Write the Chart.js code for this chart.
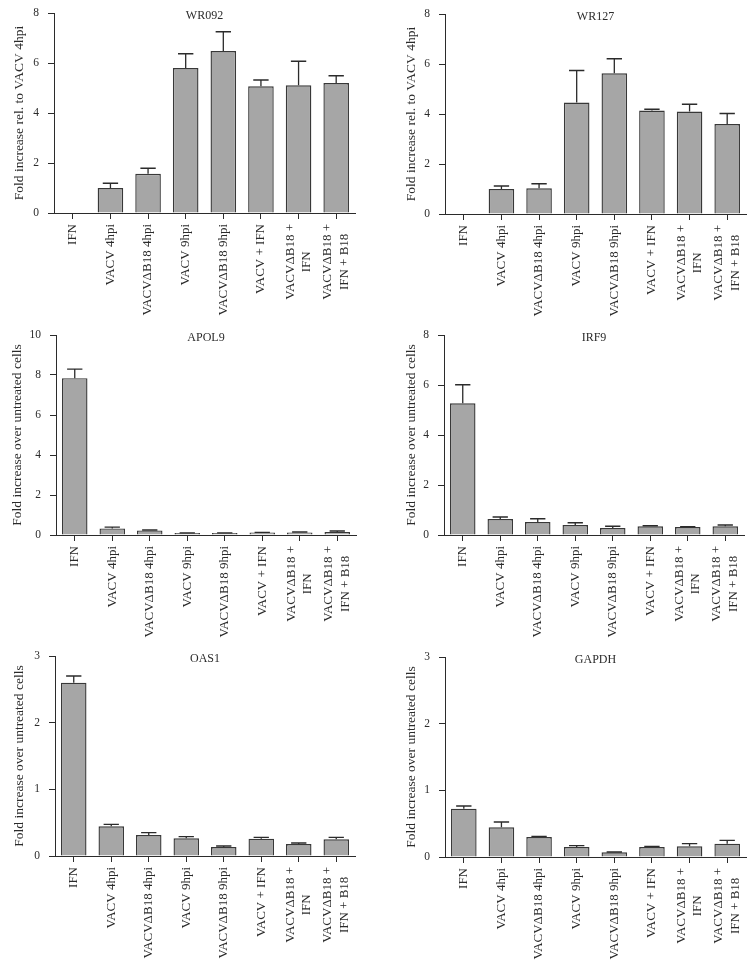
<!DOCTYPE html>
<html lang="en">
<head>
  <meta charset="UTF-8">
  <title>Gene expression panels</title>
  <script src="https://cdn.jsdelivr.net/npm/chart.js"></script>
  <style>
    body { margin: 0; background: #fff; }
    #wrap { position: relative; width: 754px; height: 972px; overflow: hidden; }
    .cell { position: absolute; }
  </style>
</head>
<body>
  <div id="wrap">
    <div class="cell" style="left:0;top:0"><canvas id="c1"></canvas></div>
    <div class="cell" style="left:377px;top:0"><canvas id="c2"></canvas></div>
    <div class="cell" style="left:0;top:318px"><canvas id="c3"></canvas></div>
    <div class="cell" style="left:377px;top:318px"><canvas id="c4"></canvas></div>
    <div class="cell" style="left:0;top:643px"><canvas id="c5"></canvas></div>
    <div class="cell" style="left:377px;top:643px"><canvas id="c6"></canvas></div>
  </div>
  <script>
    const categories = [
      'IFN', 'VACV 4hpi', 'VACVΔB18 4hpi', 'VACV 9hpi', 'VACVΔB18 9hpi',
      'VACV + IFN', ['VACVΔB18 +', 'IFN'], ['VACVΔB18 +', 'IFN + B18']
    ];

    const wr092Mean = [0, 1.0, 1.57, 5.8, 6.48, 5.07, 5.11, 5.2];
    const wr092Err  = [0, 0.19, 0.22, 0.57, 0.77, 0.25, 0.96, 0.29];
    const wr127Mean = [0, 1.0, 1.03, 4.46, 5.63, 4.14, 4.1, 3.6];
    const wr127Err  = [0, 0.12, 0.18, 1.28, 0.58, 0.05, 0.29, 0.42];
    const apol9Mean = [7.84, 0.33, 0.23, 0.1, 0.1, 0.12, 0.13, 0.15];
    const apol9Err  = [0.45, 0.06, 0.02, 0.01, 0.01, 0.01, 0.02, 0.05];
    const irf9Mean  = [5.27, 0.64, 0.52, 0.4, 0.28, 0.35, 0.32, 0.35];
    const irf9Err   = [0.74, 0.08, 0.13, 0.09, 0.07, 0.02, 0.01, 0.05];
    const oas1Mean  = [2.6, 0.445, 0.315, 0.265, 0.135, 0.26, 0.18, 0.25];
    const oas1Err   = [0.1, 0.03, 0.035, 0.025, 0.015, 0.02, 0.015, 0.03];
    const gapdhMean = [0.725, 0.445, 0.3, 0.15, 0.07, 0.15, 0.16, 0.2];
    const gapdhErr  = [0.04, 0.08, 0.01, 0.02, 0.005, 0.01, 0.04, 0.05];

    const titleRel = 'Fold increase rel. to VACV 4hpi';
    const titleUntreated = 'Fold increase over untreated cells';

    const FONT = '"Liberation Serif", "DejaVu Serif", serif';
    const INK = '#2b2b2b';
    const LABEL_SIZE = 13;

    // upward error bars with cap, placed through the y scale
    const errorBars = {
      id: 'errorBars',
      afterDatasetsDraw(chart, args, opts) {
        const meta = chart.getDatasetMeta(0);
        const y = chart.scales.y;
        const ctx = chart.ctx;
        ctx.save();
        ctx.strokeStyle = INK;
        ctx.lineWidth = 1.3;
        meta.data.forEach((bar, i) => {
          const v = chart.data.datasets[0].data[i];
          const e = opts.errors[i];
          if (!e) return;
          const top = y.getPixelForValue(v + e);
          const half = bar.width * 0.3;
          ctx.beginPath();
          ctx.moveTo(bar.x, bar.y);
          ctx.lineTo(bar.x, top);
          ctx.moveTo(bar.x - half, top);
          ctx.lineTo(bar.x + half, top);
          ctx.stroke();
        });
        ctx.restore();
      }
    };

    const panelTitle = {
      id: 'panelTitle',
      afterDraw(chart, args, opts) {
        const a = chart.chartArea;
        const ctx = chart.ctx;
        ctx.save();
        ctx.font = '12px ' + FONT;
        ctx.fillStyle = INK;
        ctx.textAlign = 'center';
        ctx.textBaseline = 'middle';
        ctx.fillText(opts.text, (a.left + a.right) / 2, a.top + 3);
        ctx.restore();
      }
    };

    // rotated category labels, lines of a label centred on each other
    const catLabels = {
      id: 'catLabels',
      afterDraw(chart) {
        const x = chart.scales.x;
        const ctx = chart.ctx;
        ctx.save();
        ctx.font = LABEL_SIZE + 'px ' + FONT;
        ctx.fillStyle = INK;
        ctx.textAlign = 'right';
        ctx.textBaseline = 'middle';
        const top = x.top + 11;
        const lh = 16.5;
        chart.data.labels.forEach((lab, i) => {
          const lines = Array.isArray(lab) ? lab : [lab];
          const widths = lines.map(l => ctx.measureText(l).width);
          const maxW = Math.max(...widths);
          const cx = x.getPixelForValue(i);
          lines.forEach((l, j) => {
            ctx.save();
            ctx.translate(cx + (j - (lines.length - 1) / 2) * lh, top + (maxW - widths[j]) / 2);
            ctx.rotate(-Math.PI / 2);
            ctx.fillText(l, 0, 0);
            ctx.restore();
          });
        });
        ctx.restore();
      }
    };

    function makePanel(id, name, mean, err, yMax, step, yTitle, box) {
      const c = document.getElementById(id);
      c.width = box.w; c.height = box.h;
      c.style.width = box.w + 'px'; c.style.height = box.h + 'px';
      new Chart(c, {
        type: 'bar',
        data: {
          labels: categories,
          datasets: [{
            data: mean,
            backgroundColor: '#a6a6a6',
            borderColor: '#383838',
            borderWidth: 1.4,
            borderSkipped: 'start',
            barPercentage: 0.68,
            categoryPercentage: 1
          }]
        },
        options: {
          responsive: false,
          animation: false,
          devicePixelRatio: 1,
          layout: { padding: { left: box.pad, right: box.w - box.right, top: box.top, bottom: 0 } },
          plugins: {
            legend: { display: false },
            tooltip: { enabled: false },
            errorBars: { errors: err },
            panelTitle: { text: name }
          },
          scales: {
            x: {
              offset: true,
              grid: { offset: false, drawOnChartArea: false, drawTicks: true, tickLength: 6, color: INK },
              border: { color: INK, width: 1 },
              ticks: { display: false, autoSkip: false },
              afterFit: s => { s.height = box.h - box.bottom; s.paddingLeft = 0; s.paddingRight = 0; }
            },
            y: {
              min: 0, max: yMax,
              grid: { drawOnChartArea: false, tickLength: 6, color: INK },
              border: { color: INK, width: 1 },
              ticks: { stepSize: step, color: INK, font: { family: FONT, size: 11.5 }, padding: 9 },
              title: { display: true, text: yTitle, color: INK, font: { family: FONT, size: 13.5 }, padding: 0 },
              afterFit: s => { s.width = box.left - box.pad; s.paddingTop = 0; s.paddingBottom = 0; }
            }
          }
        },
        plugins: [errorBars, panelTitle, catLabels]
      });
    }

    makePanel('c1', 'WR092', wr092Mean, wr092Err, 8, 2, titleRel,
      { w: 377, h: 330, left: 54, right: 355, top: 13, bottom: 213, pad: 11 });
    makePanel('c2', 'WR127', wr127Mean, wr127Err, 8, 2, titleRel,
      { w: 377, h: 330, left: 68, right: 369, top: 14, bottom: 214, pad: 26 });
    makePanel('c3', 'APOL9', apol9Mean, apol9Err, 10, 2, titleUntreated,
      { w: 377, h: 330, left: 56, right: 356, top: 17, bottom: 217, pad: 9.5 });
    makePanel('c4', 'IRF9', irf9Mean, irf9Err, 8, 2, titleUntreated,
      { w: 377, h: 330, left: 67, right: 367, top: 17, bottom: 217, pad: 26 });
    makePanel('c5', 'OAS1', oas1Mean, oas1Err, 3, 1, titleUntreated,
      { w: 377, h: 329, left: 55, right: 355, top: 13, bottom: 213, pad: 11 });
    makePanel('c6', 'GAPDH', gapdhMean, gapdhErr, 3, 1, titleUntreated,
      { w: 377, h: 329, left: 68, right: 369, top: 14, bottom: 214, pad: 26 });
  </script>
</body>
</html>
